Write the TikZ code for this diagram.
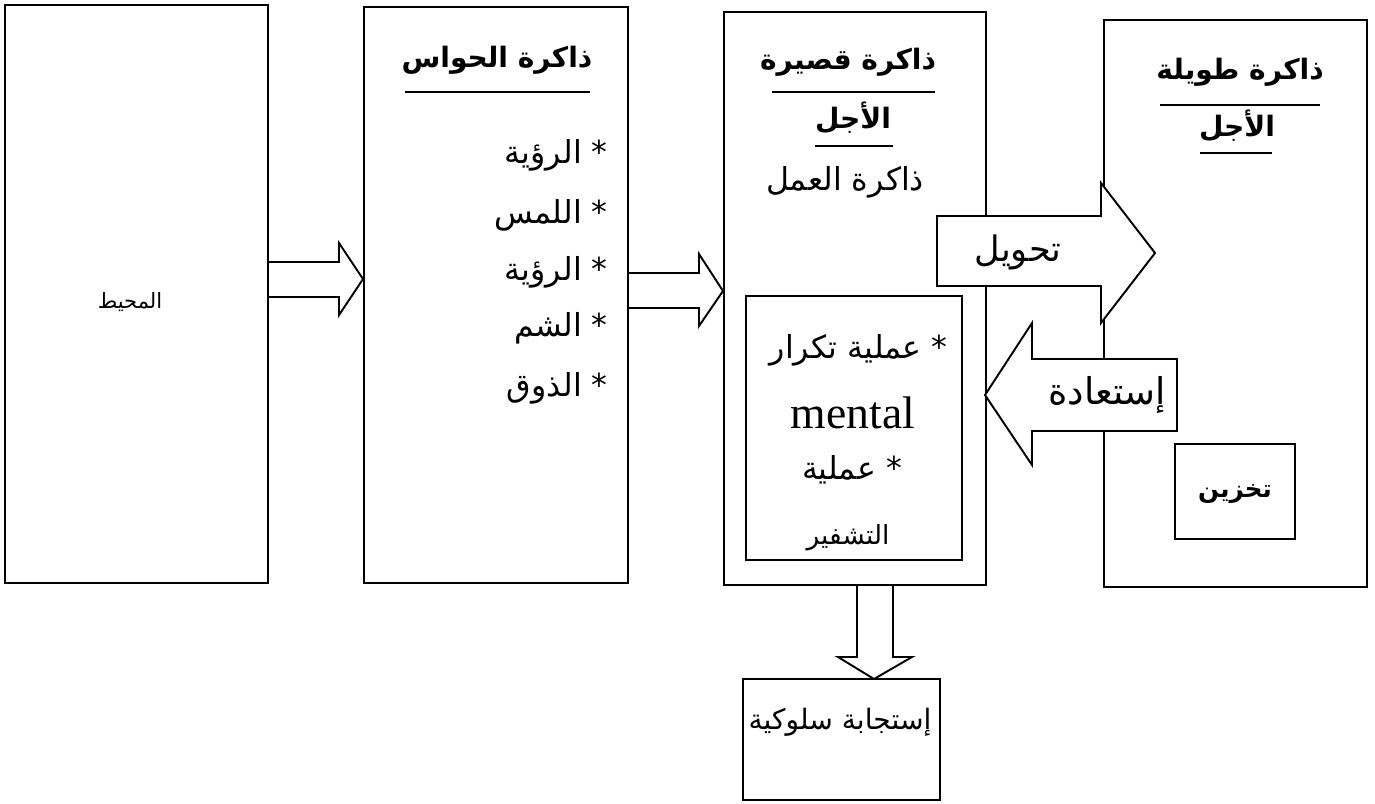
\documentclass[tikz,border=0pt]{standalone}
\usepackage{fontspec}
\setmainfont{Liberation Serif}
\newfontfamily\arabicfont[Script=Arabic]{DejaVu Sans}
\TeXXeTstate=1
\newcommand{\artxt}[1]{{\arabicfont\beginR #1\endR}}
\begin{document}
\begin{tikzpicture}[x=0.02cm,y=-0.02cm,
  rectbox/.style={draw, line width=1.1pt, inner sep=0pt, fill=white},
  blockarrow/.style={draw, line width=1.1pt, fill=white, line join=miter},
  uline/.style={line width=1.1pt},
  title/.style={font=\arabicfont\bfseries\fontsize{16}{19}\selectfont, inner sep=0pt},
  item/.style={font=\arabicfont\fontsize{18}{21}\selectfont, inner sep=0pt},
  lab/.style={font=\arabicfont\fontsize{18}{21}\selectfont, inner sep=0pt}
]
\useasboundingbox (0,0) rectangle (1375,804);
% boxes
\node[rectbox, minimum width=263*0.02cm, minimum height=578*0.02cm] (env) at (136.5,294) {};
\node[rectbox, minimum width=264*0.02cm, minimum height=576*0.02cm] (sens) at (496,295) {};
\node[rectbox, minimum width=262*0.02cm, minimum height=573*0.02cm] (stm) at (855,298.5) {};
\node[rectbox, minimum width=216*0.02cm, minimum height=264*0.02cm] (work) at (854,428) {};
\node[rectbox, minimum width=263*0.02cm, minimum height=567*0.02cm] (ltm) at (1235.5,303.5) {};
\node[rectbox, minimum width=120*0.02cm, minimum height=95*0.02cm] (store) at (1235,491.5) {};
\node[rectbox, minimum width=197*0.02cm, minimum height=121*0.02cm] (resp) at (841.5,739.5) {};

% block arrows
\draw[blockarrow] (268,262) -- (339,262) -- (339,243) -- (363,279) -- (339,315) -- (339,297) -- (268,297) -- cycle;
\draw[blockarrow] (628,273) -- (699,273) -- (699,254) -- (723,291) -- (699,326) -- (699,308) -- (628,308) -- cycle;
\draw[blockarrow] (937,216) -- (1101,216) -- (1101,183) -- (1155,253) -- (1101,323) -- (1101,286) -- (937,286) -- cycle;
\draw[blockarrow] (1177,359) -- (1032,359) -- (1032,323) -- (985,395) -- (1032,465) -- (1032,431) -- (1177,431) -- cycle;
\draw[blockarrow] (857,586) -- (857,657) -- (838,657) -- (874,679) -- (912,657) -- (893,657) -- (893,586);

% texts
\node[font=\arabicfont\fontsize{12}{14}\selectfont, inner sep=0pt] (tenv) at (130,302) {\artxt{المحيط}};

\node[title] (tsens) at (497,60) {\artxt{ذاكرة الحواس}};
\coordinate (us1) at (405,92); \coordinate (us2) at (590,92);
\draw[uline] (us1) -- (us2);
\node[item, anchor=east] (i1) at (608,155) {\artxt{* الرؤية}};
\node[item, anchor=east] (i2) at (608,215) {\artxt{* اللمس}};
\node[item, anchor=east] (i3) at (608,272) {\artxt{* الرؤية}};
\node[item, anchor=east] (i4) at (608,328) {\artxt{* الشم}};
\node[item, anchor=east] (i5) at (608,388) {\artxt{* الذوق}};

\node[title] (tstm) at (848,62) {\artxt{ذاكرة قصيرة}};
\coordinate (ua1) at (772,92); \coordinate (ua2) at (935,92);
\draw[uline] (ua1) -- (ua2);
\node[title] (tstm2) at (853,118) {\artxt{الأجل}};
\coordinate (ub1) at (815,146); \coordinate (ub2) at (893,146);
\draw[uline] (ub1) -- (ub2);
\node[lab] (twork) at (845,182) {\artxt{ذاكرة العمل}};

\node[lab, anchor=east] (w1) at (948,350) {\artxt{* عملية تكرار}};
\node[font=\fontsize{26}{30}\selectfont, inner sep=0pt] (w2) at (853,413) {mental};
\node[lab] (w3) at (852,470) {\artxt{* عملية}};
\node[font=\arabicfont\fontsize{15}{18}\selectfont, inner sep=0pt] (w4) at (848,538) {\artxt{التشفير}};

\node[title] (tltm) at (1240,72) {\artxt{ذاكرة طويلة}};
\coordinate (uc1) at (1160,105); \coordinate (uc2) at (1320,105);
\draw[uline] (uc1) -- (uc2);
\node[title] (tltm2) at (1237,126) {\artxt{الأجل}};
\coordinate (ud1) at (1200,153); \coordinate (ud2) at (1272,153);
\draw[uline] (ud1) -- (ud2);

\node[font=\arabicfont\fontsize{20}{24}\selectfont, inner sep=0pt] (ttrans) at (1018,252) {\artxt{تحويل}};
\node[font=\arabicfont\fontsize{21}{25}\selectfont, inner sep=0pt] (tret) at (1107,395) {\artxt{إستعادة}};
\node[font=\arabicfont\bfseries\fontsize{14}{17}\selectfont, inner sep=0pt] (tstore) at (1235,494) {\artxt{تخزين}};
\node[font=\arabicfont\fontsize{16}{19}\selectfont, inner sep=0pt] (tresp) at (840,722) {\artxt{إستجابة سلوكية}};
\end{tikzpicture}
\end{document}
